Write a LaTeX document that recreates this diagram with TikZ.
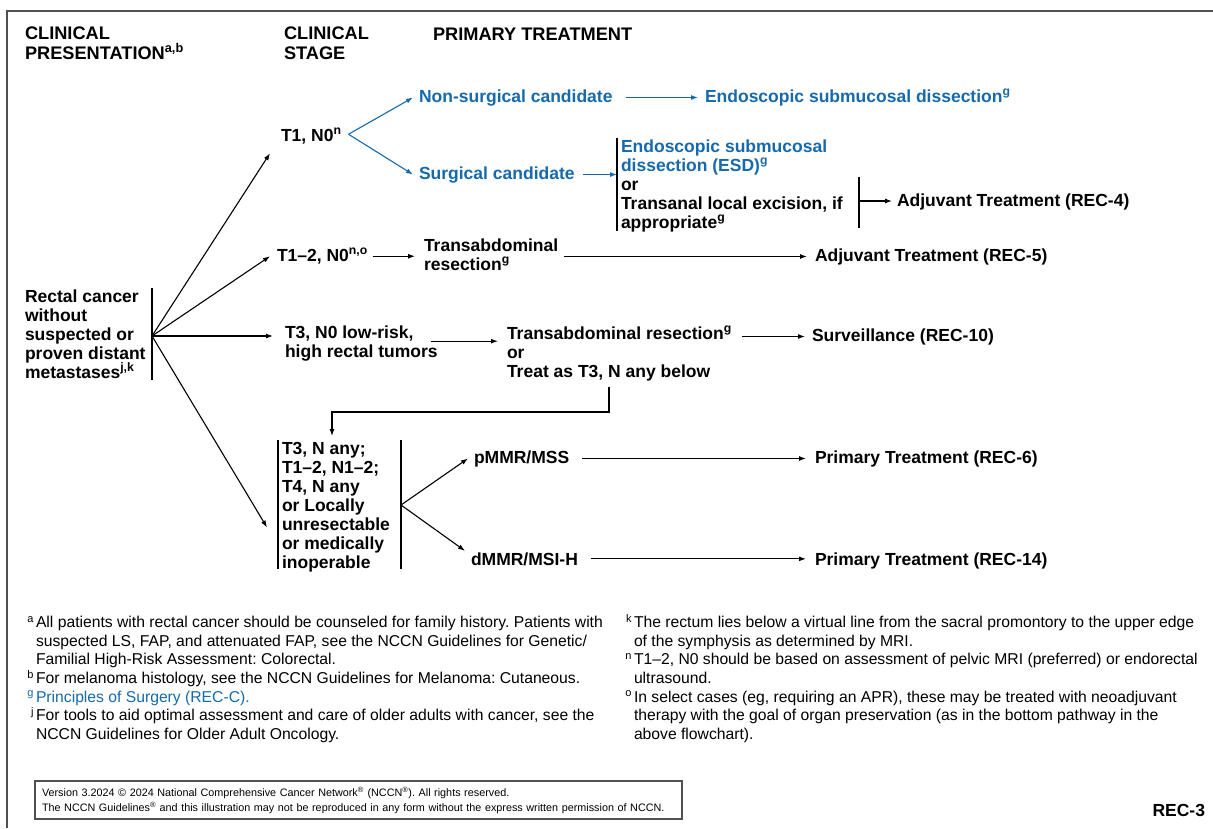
\documentclass[tikz,border=0pt]{standalone}
\usepackage{fontspec}
\setmainfont{Liberation Sans}
\usetikzlibrary{arrows.meta}
\definecolor{nccnblue}{RGB}{22,106,172}
\definecolor{framegray}{RGB}{80,80,80}
\newcommand{\sups}[1]{\smash{\textsuperscript{#1}}}
\frenchspacing
\begin{document}
\begin{tikzpicture}[x=1pt,y=-1pt,
  every node/.style={inner sep=0pt,outer sep=0pt},
  dtext/.style={font=\fontsize{17.5}{19}\selectfont\bfseries, align=left},
  htext/.style={font=\fontsize{18.2}{19.5}\selectfont\bfseries, align=left},
  btext/.style={dtext, text=nccnblue},
  ftext/.style={font=\fontsize{15.7}{18.7}\selectfont, align=left},
  conn/.style={line width=1.1pt},
  arr/.style={conn,-{Latex[length=7pt,width=5pt]}},
  barline/.style={line width=1.1pt},
]
\useasboundingbox (0,0) rectangle (1213,828);
\fill[white] (0,0) rectangle (1213,828);
\draw[framegray, line width=2pt] (7,828) -- (7,11) -- (1213,11);

% headers
\node[htext,anchor=north west] (hcp) at (25,27) {CLINICAL\\PRESENTATION\sups{a,b}};
\node[htext,anchor=north west] (hcs) at (284,27) {CLINICAL\\STAGE};
\node[htext,anchor=base west] (hpt) at (433,40) {PRIMARY TREATMENT};

% nodes
\node[dtext,anchor=north west] (rc) at (25,289.5) {Rectal cancer\\without\\suspected or\\proven distant\\metastases\sups{j,k}};
\node[dtext,anchor=base west] (t1) at (281,141) {T1, N0\sups{n}};
\node[btext,anchor=base west] (nonsurg) at (419,102) {Non-surgical candidate};
\node[btext,anchor=base west] (esd1) at (705,102) {Endoscopic submucosal dissection\sups{g}};
\node[btext,anchor=base west] (surg) at (419,179) {Surgical candidate};
\node[dtext,anchor=north west] (esdb) at (621,139.5) {{\color{nccnblue}Endoscopic submucosal}\\{\color{nccnblue}dissection (ESD)\sups{g}}\\or\\Transanal local excision, if\\appropriate\sups{g}};
\node[dtext,anchor=base west] (adj4) at (897,206) {Adjuvant Treatment (REC-4)};
\node[dtext,anchor=base west] (t12) at (277,261) {T1–2, N0\sups{n,o}};
\node[dtext,anchor=north west] (transab1) at (424,238.5) {Transabdominal\\resection\sups{g}};
\node[dtext,anchor=base west] (adj5) at (815,261) {Adjuvant Treatment (REC-5)};
\node[dtext,anchor=north west] (t3n0) at (285,325.5) {T3, N0 low-risk,\\high rectal tumors};
\node[dtext,anchor=north west] (transab2) at (507,326.5) {Transabdominal resection\sups{g}\\or\\Treat as T3, N any below};
\node[dtext,anchor=base west] (surv) at (812,341) {Surveillance (REC-10)};
\node[dtext,anchor=north west] (t3any) at (282,442.5) {T3, N any;\\T1–2, N1–2;\\T4, N any\\or Locally\\unresectable\\or medically\\inoperable};
\node[dtext,anchor=base west] (pmmr) at (474,463) {pMMR/MSS};
\node[dtext,anchor=base west] (dmmr) at (471,565) {dMMR/MSI-H};
\node[dtext,anchor=base west] (prim6) at (815,463) {Primary Treatment (REC-6)};
\node[dtext,anchor=base west] (prim14) at (815,565) {Primary Treatment (REC-14)};

% bars and junctions
\coordinate (rcT) at (152,288); \coordinate (rcB) at (152,380); \coordinate (rcV) at (152,336);
\draw[barline] (rcT) -- (rcB);
\coordinate (esdT) at (617,138); \coordinate (esdB) at (617,231);
\draw[barline] (esdT) -- (esdB);
\coordinate (esdRT) at (859,177); \coordinate (esdRB) at (859,228); \coordinate (esdRV) at (859,201);
\draw[barline] (esdRT) -- (esdRB);
\coordinate (t3aT) at (278,440); \coordinate (t3aB) at (278,569);
\draw[barline] (t3aT) -- (t3aB);
\coordinate (t3bT) at (401,440); \coordinate (t3bB) at (401,569); \coordinate (t3V) at (401,505);
\draw[barline] (t3bT) -- (t3bB);

% connectors from rectal cancer
\draw[arr] (rcV) -- ([xshift=-11pt,yshift=-17pt]t1.west);
\draw[arr] (rcV) -- ([xshift=-7pt]t12.west);
\draw[arr] (rcV) -- ([xshift=-12pt]t3n0.west |- rcV);
\draw[arr] (rcV) -- ([xshift=-15pt,yshift=-20pt]t3any.west);

% T1 N0 branch
\coordinate (t1v) at ([xshift=7pt,yshift=2pt]t1.east);
\draw[arr,nccnblue] (t1v) -- ([xshift=-6pt]nonsurg.west);
\draw[arr,nccnblue] (t1v) -- ([xshift=-6pt]surg.west);
\draw[arr,nccnblue] ([xshift=13pt]nonsurg.east) -- ([xshift=-7pt]esd1.west |- nonsurg.east);
\draw[arr,nccnblue] ([xshift=8pt]surg.east) -- (esdT |- surg.east);
\draw[arr] (esdRV) -- ([xshift=-5pt]adj4.west |- esdRV);

% T1-2 branch
\draw[arr] ([xshift=5pt]t12.east) -- ([xshift=-9pt]t12.east -| transab1.west);
\draw[arr] ([xshift=6pt]transab1.east |- adj5.west) -- ([xshift=-8pt]adj5.west);

% T3 N0 branch
\draw[arr] ([xshift=-7pt,yshift=2pt]t3n0.east) -- ([xshift=-9pt,yshift=2pt]t3n0.east -| transab2.west);
\draw[arr] ([xshift=10pt]transab2.east |- surv.west) -- ([xshift=-7pt]surv.west);
\coordinate (e1) at (609,412); \coordinate (e2) at (332,412);
\draw[arr] ([yshift=-6pt]transab2.south -| e1) -- (e1) -- (e2) -- ([yshift=4pt]t3aT -| e2);

% T3 N any branch
\draw[arr] (t3V) -- ([xshift=-6pt]pmmr.west);
\draw[arr] (t3V) -- ([xshift=-6pt,yshift=8pt]dmmr.west);
\draw[arr] ([xshift=13pt]pmmr.east) -- ([xshift=-9pt]prim6.west |- pmmr.east);
\draw[arr] ([xshift=13pt]dmmr.east) -- ([xshift=-9pt]prim14.west |- dmmr.east);

% footnotes
\node[ftext,anchor=north west] (fnl) at (36,616) {\llap{\sups{a}\hspace{2pt}}All patients with rectal cancer should be counseled for family history. Patients with\\
suspected LS, FAP, and attenuated FAP, see the NCCN Guidelines for Genetic/\\
Familial High-Risk Assessment: Colorectal.\\
\llap{\sups{b}\hspace{2pt}}For melanoma histology, see the NCCN Guidelines for Melanoma: Cutaneous.\\
{\color{nccnblue}\llap{\sups{g}\hspace{2pt}}Principles of Surgery (REC-C).}\\
\llap{\sups{j}\hspace{2pt}}For tools to aid optimal assessment and care of older adults with cancer, see the\\
NCCN Guidelines for Older Adult Oncology.};
\node[ftext,anchor=north west] (fnr) at (634,616) {\llap{\sups{k}\hspace{2pt}}The rectum lies below a virtual line from the sacral promontory to the upper edge\\
of the symphysis as determined by MRI.\\
\llap{\sups{n}\hspace{2pt}}T1–2, N0 should be based on assessment of pelvic MRI (preferred) or endorectal\\
ultrasound.\\
\llap{\sups{o}\hspace{2pt}}In select cases (eg, requiring an APR), these may be treated with neoadjuvant\\
therapy with the goal of organ preservation (as in the bottom pathway in the\\
above flowchart).};

% copyright
\node[draw=framegray, line width=1.2pt, anchor=north west, align=left, text width=633pt, inner xsep=7pt, minimum height=38pt, font=\fontsize{10.8}{15}\selectfont] (copy) at (35,781) {Version 3.2024 \textcopyright{} 2024 National Comprehensive Cancer Network\textsuperscript{\textregistered} (NCCN\textsuperscript{\textregistered}). All rights reserved.\\The NCCN Guidelines\textsuperscript{\textregistered} and this illustration may not be reproduced in any form without the express written permission of NCCN.};
\node[dtext,anchor=base east] (rec3) at (1205,816) {REC-3};
\end{tikzpicture}
\end{document}
